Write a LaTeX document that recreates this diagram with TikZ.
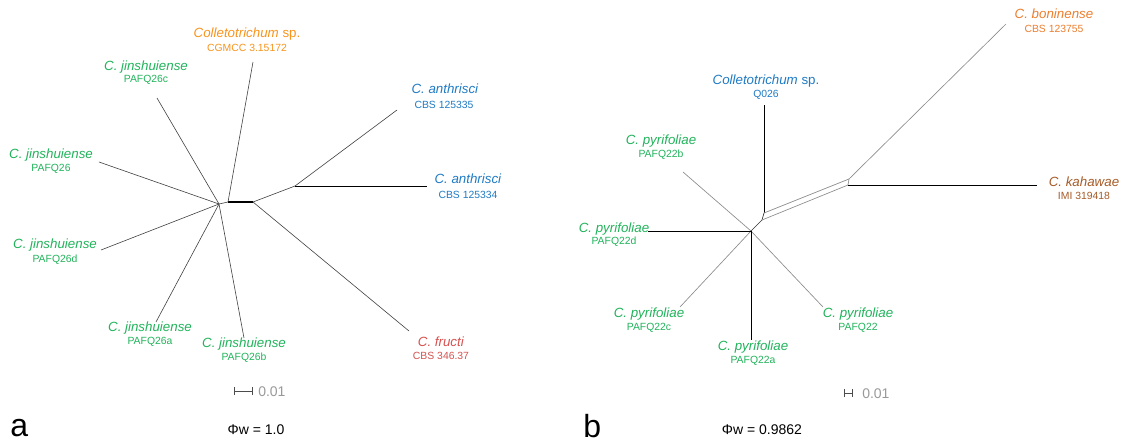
\documentclass[tikz,border=0pt]{standalone}
\usepackage{fontspec}
\setmainfont{Liberation Sans}
\definecolor{corange}{HTML}{F7941D}
\definecolor{corange2}{HTML}{EC7E2E}
\definecolor{cgreen}{HTML}{21B35B}
\definecolor{cblue}{HTML}{1F7BC4}
\definecolor{cred}{HTML}{D6514F}
\definecolor{cbrown}{HTML}{A65B27}
\definecolor{cgray}{HTML}{999999}
\tikzset{
  sp/.style={font=\fontsize{10}{12}\selectfont, inner sep=0pt},
  code/.style={font=\fontsize{7.8}{9}\selectfont, inner sep=0pt},
  br/.style={draw=black!75, line width=0.45pt},
  thk/.style={draw=black, line width=0.9pt},
  thk2/.style={draw=black, line width=0.75pt},
  gbr/.style={draw=black!45, line width=0.5pt},
  bbr/.style={draw=black, line width=0.75pt},
  scalebar/.style={draw=black!70, line width=0.5pt, |-|, >=Bar},
  scaletext/.style={font=\fontsize{10.5}{12}\selectfont, text=cgray, inner sep=0pt, anchor=west},
  panel/.style={font=\fontsize{24}{28}\selectfont, inner sep=0pt},
  phi/.style={font=\fontsize{10.5}{12}\selectfont, inner sep=0pt}
}
\begin{document}
\begin{tikzpicture}[x=0.75pt,y=-0.75pt]
\useasboundingbox (0,0) rectangle (1122,443);
% ---------------- panel a ----------------
\coordinate (H) at (219,204);
\coordinate (C1) at (228,202);
\coordinate (N1) at (253,202);
\coordinate (N2) at (295,186);
\coordinate (tCol) at (253,62);
\coordinate (t26c) at (157,98);
\coordinate (t26) at (99,162);
\coordinate (t26d) at (101,250);
\coordinate (t26a) at (156,322);
\coordinate (t26b) at (244,338);
\coordinate (tFr) at (409,331);
\coordinate (t335) at (397,110);
\coordinate (t334) at (427,186);
\draw[br] (H) -- (C1);
\draw[thk] (C1) -- (N1);
\draw[br] (C1) -- (tCol);
\draw[br] (H) -- (t26c);
\draw[br] (H) -- (t26);
\draw[br] (H) -- (t26d);
\draw[br] (H) -- (t26a);
\draw[br] (H) -- (t26b);
\draw[br] (N1) -- (tFr);
\draw[br] (N1) -- (N2);
\draw[br] (N2) -- (t335);
\draw[thk2] (N2) -- (t334);

\node[sp,text=corange] (nCol) at (247,34) {\textit{Colletotrichum} sp.};
\node[code,text=corange] (cCol) at (247,48) {CGMCC 3.15172};
\node[sp,text=cgreen] (n26c) at (146,67) {\textit{C. jinshuiense}};
\node[code,text=cgreen] (c26c) at (146,80) {PAFQ26c};
\node[sp,text=cgreen] (n26) at (51,155) {\textit{C. jinshuiense}};
\node[code,text=cgreen] (c26) at (51,169) {PAFQ26};
\node[sp,text=cgreen] (n26d) at (55,245) {\textit{C. jinshuiense}};
\node[code,text=cgreen] (c26d) at (55,260) {PAFQ26d};
\node[sp,text=cgreen] (n26a) at (150,328) {\textit{C. jinshuiense}};
\node[code,text=cgreen] (c26a) at (150,342) {PAFQ26a};
\node[sp,text=cgreen] (n26b) at (244,344) {\textit{C. jinshuiense}};
\node[code,text=cgreen] (c26b) at (244,358) {PAFQ26b};
\node[sp,text=cred] (nFr) at (441,342) {\textit{C. fructi}};
\node[code,text=cred] (cFr) at (441,356) {CBS 346.37};
\node[sp,text=cblue] (n335) at (445,89) {\textit{C. anthrisci}};
\node[code,text=cblue] (c335) at (444,105) {CBS 125335};
\node[sp,text=cblue] (n334) at (468,179) {\textit{C. anthrisci}};
\node[code,text=cblue] (c334) at (468,195) {CBS 125334};

\coordinate (sa1) at (234,391);
\coordinate (sa2) at (253,391);
\draw[scalebar] (sa1) -- (sa2);
\node[scaletext] (sta) at (258,392) {0.01};
\node[panel,anchor=west] (pa) at (10,428) {a};
\node[phi] (phia) at (256,430) {Φw = 1.0};

% ---------------- panel b ----------------
\coordinate (G) at (751,231);
\coordinate (B1) at (762,220);
\coordinate (B2) at (764,213);
\coordinate (B3) at (849,179);
\coordinate (B4) at (848,185);
\coordinate (tQ) at (764,105);
\coordinate (tBon) at (1006,24);
\coordinate (tKah) at (1037,185);
\coordinate (t22b) at (683,172);
\coordinate (t22d) at (648,231);
\coordinate (t22c) at (680,307);
\coordinate (t22) at (823,307);
\coordinate (t22a) at (751,340);

\draw[gbr] (G) -- (t22b);
\draw[gbr] (G) -- (t22c);
\draw[gbr] (G) -- (t22);
\draw[bbr] (G) -- (t22d);
\draw[bbr] (G) -- (t22a);
\draw[black!80, line width=0.5pt] (G) -- (B1) -- (B2);
\draw[bbr] (B2) -- (tQ);
\draw[gbr] (B2) -- (B3);
\draw[gbr] (B1) -- (B4);
\draw[gbr] (B3) -- (B4);
\draw[gbr] (B3) -- (tBon);
\draw[bbr] (B4) -- (tKah);

\node[sp,text=corange2] (nBon) at (1054,14) {\textit{C. boninense}};
\node[code,text=corange2] (cBon) at (1054,29) {CBS 123755};
\node[sp,text=cblue] (nQ) at (766,81) {\textit{Colletotrichum} sp.};
\node[code,text=cblue] (cQ) at (766,95) {Q026};
\node[sp,text=cgreen] (n22b) at (661,141) {\textit{C. pyrifoliae}};
\node[code,text=cgreen] (c22b) at (661,155) {PAFQ22b};
\node[sp,text=cbrown] (nKah) at (1084,182) {\textit{C. kahawae}};
\node[code,text=cbrown] (cKah) at (1084,196) {IMI 319418};
\node[sp,text=cgreen] (n22d) at (614,229) {\textit{C. pyrifoliae}};
\node[code,text=cgreen] (c22d) at (614,242) {PAFQ22d};
\node[sp,text=cgreen] (n22c) at (649,314) {\textit{C. pyrifoliae}};
\node[code,text=cgreen] (c22c) at (649,328) {PAFQ22c};
\node[sp,text=cgreen] (n22) at (858,314) {\textit{C. pyrifoliae}};
\node[code,text=cgreen] (c22) at (858,328) {PAFQ22};
\node[sp,text=cgreen] (n22a) at (753,347) {\textit{C. pyrifoliae}};
\node[code,text=cgreen] (c22a) at (753,361) {PAFQ22a};

\coordinate (sb1) at (844,393);
\coordinate (sb2) at (853,393);
\draw[scalebar] (sb1) -- (sb2);
\node[scaletext] (stb) at (862,394) {0.01};
\node[panel,anchor=west] (pb) at (583,426) {b};
\node[phi] (phib) at (762,430) {Φw = 0.9862};
\end{tikzpicture}
\end{document}
